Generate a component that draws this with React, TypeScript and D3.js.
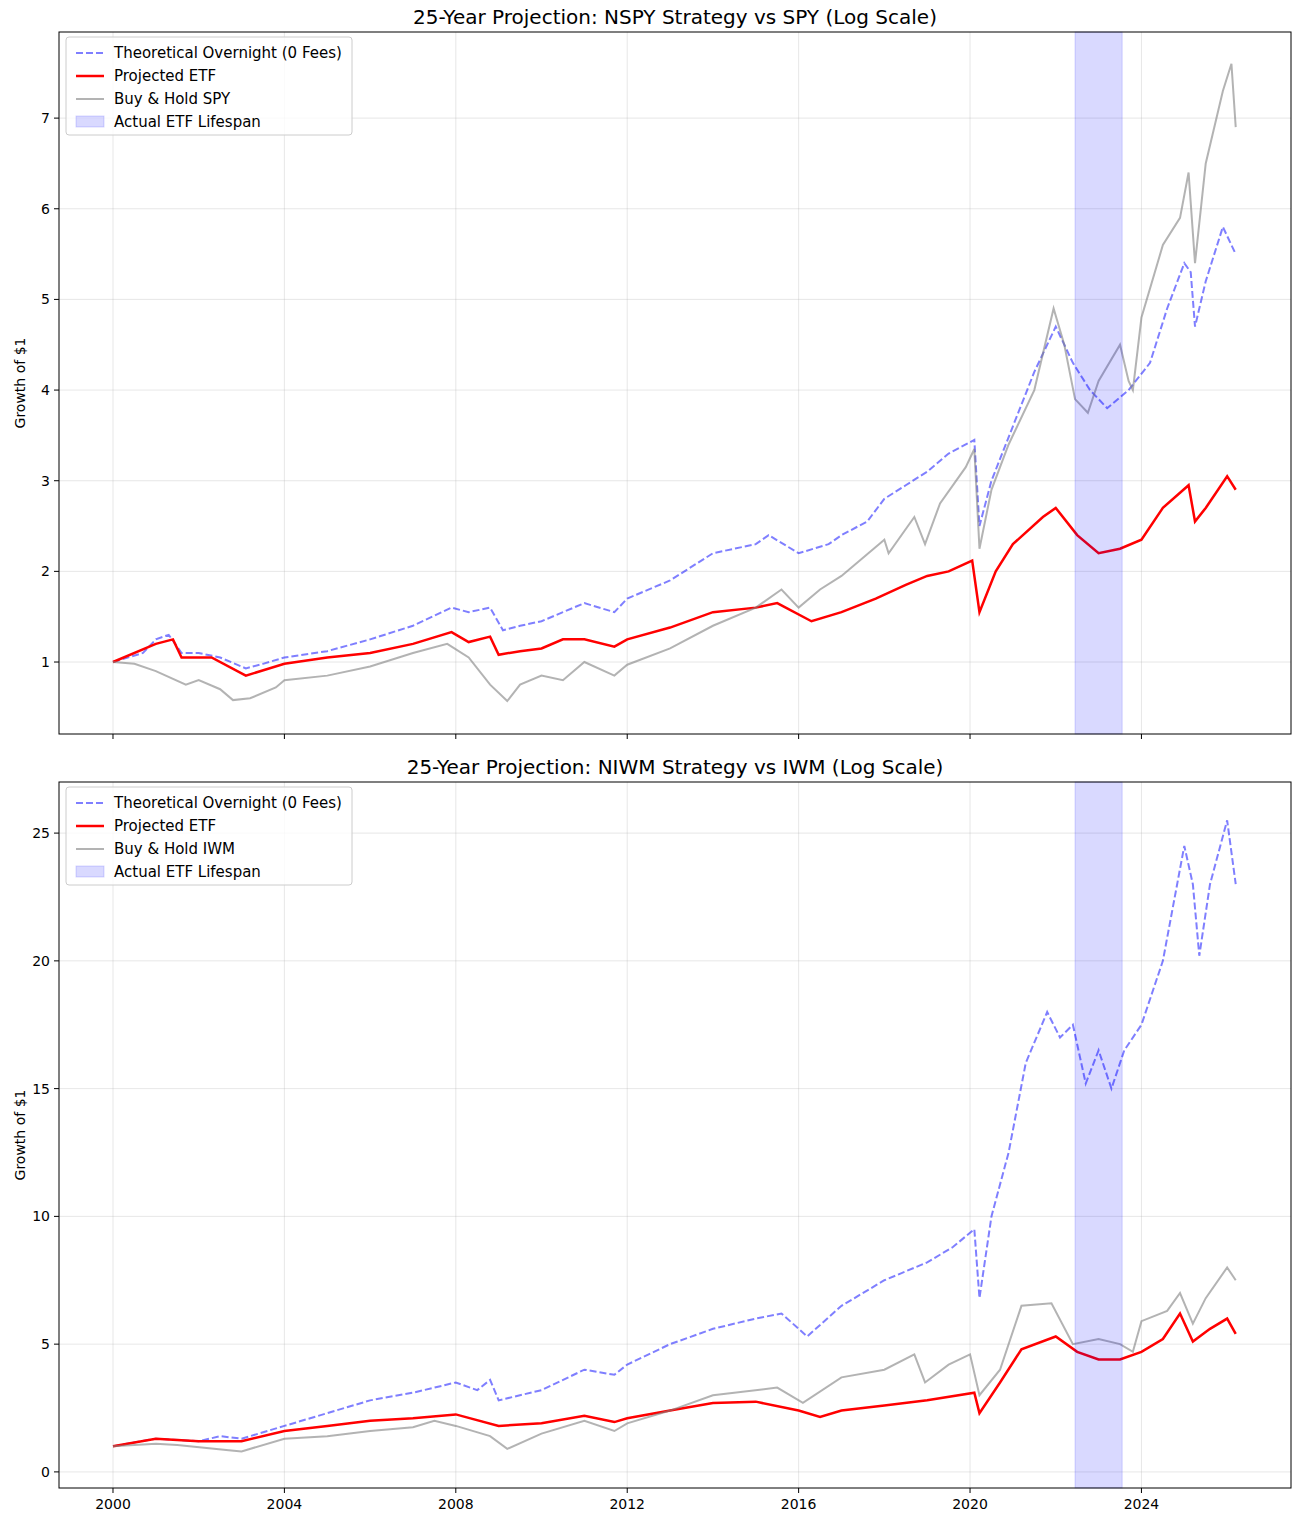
import React from "react";
import * as d3 from "d3";

// Top panel data [year, value]
const spyTheo: [number, number][] = [[2000,1.0],[2000.7,1.1],[2001,1.25],[2001.3,1.3],[2001.6,1.1],[2002,1.1],[2002.5,1.05],[2003.1,0.93],[2003.5,0.98],[2004,1.05],[2005,1.12],[2006,1.25],[2007,1.4],[2007.9,1.6],[2008.3,1.55],[2008.8,1.6],[2009.1,1.35],[2009.5,1.4],[2010,1.45],[2010.5,1.55],[2011,1.65],[2011.7,1.55],[2012,1.7],[2013,1.9],[2014,2.2],[2015,2.3],[2015.3,2.4],[2016,2.2],[2016.7,2.3],[2017,2.4],[2017.6,2.55],[2018,2.8],[2018.5,2.95],[2019,3.1],[2019.5,3.3],[2020.1,3.45],[2020.22,2.5],[2020.5,3.0],[2021,3.6],[2021.5,4.2],[2022,4.7],[2022.4,4.3],[2022.8,4.0],[2023.2,3.8],[2023.7,4.0],[2024.2,4.3],[2024.6,4.9],[2025,5.4],[2025.15,5.3],[2025.25,4.7],[2025.5,5.2],[2025.9,5.8],[2026.2,5.5]];
const spyEtf: [number, number][] = [[2000,1.0],[2001,1.2],[2001.4,1.25],[2001.6,1.05],[2002.3,1.05],[2003.1,0.85],[2004,0.98],[2005,1.05],[2006,1.1],[2007,1.2],[2007.9,1.33],[2008.3,1.22],[2008.8,1.28],[2009,1.08],[2009.5,1.12],[2010,1.15],[2010.5,1.25],[2011,1.25],[2011.7,1.17],[2012,1.25],[2013,1.38],[2014,1.55],[2015,1.6],[2015.5,1.65],[2016.3,1.45],[2017,1.55],[2017.8,1.7],[2018.5,1.85],[2019,1.95],[2019.5,2.0],[2020.05,2.12],[2020.22,1.55],[2020.6,2.0],[2021,2.3],[2021.7,2.6],[2022,2.7],[2022.5,2.4],[2023,2.2],[2023.5,2.25],[2024,2.35],[2024.5,2.7],[2025.1,2.95],[2025.25,2.55],[2025.5,2.7],[2026,3.05],[2026.2,2.9]];
const spyHold: [number, number][] = [[2000,1.0],[2000.5,0.98],[2001,0.9],[2001.7,0.75],[2002,0.8],[2002.5,0.7],[2002.8,0.58],[2003.2,0.6],[2003.8,0.72],[2004,0.8],[2005,0.85],[2006,0.95],[2007,1.1],[2007.8,1.2],[2008.3,1.05],[2008.8,0.75],[2009.2,0.57],[2009.5,0.75],[2010,0.85],[2010.5,0.8],[2011,1.0],[2011.7,0.85],[2012,0.97],[2013,1.15],[2014,1.4],[2015,1.6],[2015.6,1.8],[2016,1.6],[2016.5,1.8],[2017,1.95],[2018,2.35],[2018.1,2.2],[2018.7,2.6],[2018.95,2.3],[2019.3,2.75],[2019.9,3.15],[2020.1,3.35],[2020.22,2.25],[2020.5,2.9],[2020.9,3.4],[2021.5,4.0],[2021.95,4.9],[2022.2,4.5],[2022.45,3.9],[2022.75,3.75],[2023,4.1],[2023.5,4.5],[2023.7,4.1],[2023.8,4.0],[2024,4.8],[2024.5,5.6],[2024.9,5.9],[2025.1,6.4],[2025.25,5.4],[2025.5,6.5],[2025.9,7.3],[2026.1,7.6],[2026.2,6.9]];
// Bottom panel data
const iwmTheo: [number, number][] = [[2000,1.0],[2001,1.3],[2002,1.2],[2002.5,1.4],[2003,1.3],[2004,1.8],[2005,2.3],[2006,2.8],[2007,3.1],[2008,3.5],[2008.5,3.2],[2008.8,3.6],[2009,2.8],[2010,3.2],[2011,4.0],[2011.7,3.8],[2012,4.2],[2013,5.0],[2014,5.6],[2015,6.0],[2015.6,6.2],[2016.2,5.3],[2017,6.5],[2018,7.5],[2019,8.2],[2019.6,8.8],[2020.1,9.5],[2020.22,6.8],[2020.5,10],[2020.9,12.5],[2021.3,16],[2021.8,18],[2022.1,17],[2022.4,17.5],[2022.7,15.2],[2023,16.5],[2023.3,15.0],[2023.6,16.5],[2024,17.5],[2024.5,20],[2025,24.5],[2025.2,23],[2025.35,20.2],[2025.6,23],[2026,25.5],[2026.2,23]];
const iwmEtf: [number, number][] = [[2000,1.0],[2001,1.3],[2002,1.2],[2003,1.2],[2004,1.6],[2005,1.8],[2006,2.0],[2007,2.1],[2008,2.25],[2009,1.8],[2010,1.9],[2011,2.2],[2011.7,1.95],[2012,2.1],[2013,2.4],[2014,2.7],[2015,2.75],[2016,2.4],[2016.5,2.15],[2017,2.4],[2018,2.6],[2019,2.8],[2020.1,3.1],[2020.22,2.3],[2020.7,3.5],[2021.2,4.8],[2022,5.3],[2022.5,4.7],[2023,4.4],[2023.5,4.4],[2024,4.7],[2024.5,5.2],[2024.9,6.2],[2025.2,5.1],[2025.6,5.6],[2026,6.0],[2026.2,5.4]];
const iwmHold: [number, number][] = [[2000,1.0],[2001,1.1],[2001.5,1.05],[2002.7,0.85],[2003,0.8],[2004,1.3],[2005,1.4],[2006,1.6],[2007,1.75],[2007.5,2.0],[2008,1.8],[2008.8,1.4],[2009.2,0.9],[2010,1.5],[2011,2.0],[2011.7,1.6],[2012,1.9],[2013,2.4],[2014,3.0],[2015.5,3.3],[2016.1,2.7],[2017,3.7],[2018,4.0],[2018.7,4.6],[2018.95,3.5],[2019.5,4.2],[2020,4.6],[2020.22,3.0],[2020.7,4.0],[2021.2,6.5],[2021.9,6.6],[2022.4,5.0],[2023,5.2],[2023.5,5.0],[2023.8,4.7],[2024,5.9],[2024.6,6.3],[2024.9,7.0],[2025.2,5.8],[2025.5,6.8],[2026,8.0],[2026.2,7.5]];

const xTicks = [2000, 2004, 2008, 2012, 2016, 2020, 2024];
const topYTicks = [1, 2, 3, 4, 5, 6, 7];
const botYTicks = [0, 5, 10, 15, 20, 25];
const lifespan: [number, number] = [2022.45, 2023.55];
const FONT = "DejaVu Sans, sans-serif";

const x = d3.scaleLinear().domain([1998.74, 2027.49]).range([59, 1291]);

function Panel(p: { top: number; bottom: number; yDomain: [number, number]; yTicks: number[]; title: string; holdLabel: string; theo: [number, number][]; etf: [number, number][]; hold: [number, number][]; showX: boolean }) {
  const y = d3.scaleLinear().domain(p.yDomain).range([p.bottom, p.top]);
  const line = d3.line<[number, number]>().x(d => x(d[0])).y(d => y(d[1]));
  const L = 59, R = 1291;
  return (
    <g>
      <text x={(L + R) / 2} y={p.top - 8} textAnchor="middle" fontSize={20} fontFamily={FONT}>{p.title}</text>
      {xTicks.map(t => <line key={"gx" + t} x1={x(t)} x2={x(t)} y1={p.top} y2={p.bottom} stroke="#b0b0b0" strokeOpacity={0.3} />)}
      {p.yTicks.map(t => <line key={"gy" + t} x1={L} x2={R} y1={y(t)} y2={y(t)} stroke="#b0b0b0" strokeOpacity={0.3} />)}
      <path d={line(p.theo)!} fill="none" stroke="blue" strokeOpacity={0.5} strokeWidth={2} strokeDasharray="7,3" />
      <path d={line(p.etf)!} fill="none" stroke="red" strokeWidth={2.5} />
      <path d={line(p.hold)!} fill="none" stroke="gray" strokeOpacity={0.6} strokeWidth={2} />
      <rect x={x(lifespan[0])} y={p.top} width={x(lifespan[1]) - x(lifespan[0])} height={p.bottom - p.top} fill="blue" fillOpacity={0.15} stroke="blue" strokeOpacity={0.15} />
      <rect x={L} y={p.top} width={R - L} height={p.bottom - p.top} fill="none" stroke="black" strokeWidth={1} />
      {p.yTicks.map(t => (
        <g key={"ty" + t}>
          <line x1={L - 5} x2={L} y1={y(t)} y2={y(t)} stroke="black" />
          <text x={L - 9} y={y(t)} dy="0.35em" textAnchor="end" fontSize={14} fontFamily={FONT}>{t}</text>
        </g>
      ))}
      {xTicks.map(t => (
        <g key={"tx" + t}>
          <line x1={x(t)} x2={x(t)} y1={p.bottom} y2={p.bottom + 5} stroke="black" />
          {p.showX && <text x={x(t)} y={p.bottom + 21} textAnchor="middle" fontSize={14} fontFamily={FONT}>{t}</text>}
        </g>
      ))}
      <text transform={`translate(25,${(p.top + p.bottom) / 2}) rotate(-90)`} textAnchor="middle" fontSize={14} fontFamily={FONT}>Growth of $1</text>
      <g transform={`translate(66,${p.top + 5})`}>
        <rect width={286} height={98} rx={3} fill="white" fillOpacity={0.8} stroke="#cccccc" />
        <line x1={10} x2={38} y1={16} y2={16} stroke="blue" strokeOpacity={0.5} strokeWidth={2} strokeDasharray="7,3" />
        <text x={48} y={16} dy="0.35em" fontSize={15} fontFamily={FONT}>Theoretical Overnight (0 Fees)</text>
        <line x1={10} x2={38} y1={39} y2={39} stroke="red" strokeWidth={2.5} />
        <text x={48} y={39} dy="0.35em" fontSize={15} fontFamily={FONT}>Projected ETF</text>
        <line x1={10} x2={38} y1={62} y2={62} stroke="gray" strokeOpacity={0.6} strokeWidth={2} />
        <text x={48} y={62} dy="0.35em" fontSize={15} fontFamily={FONT}>{p.holdLabel}</text>
        <rect x={10} y={79} width={28} height={11} fill="blue" fillOpacity={0.15} stroke="blue" strokeOpacity={0.15} />
        <text x={48} y={85} dy="0.35em" fontSize={15} fontFamily={FONT}>Actual ETF Lifespan</text>
      </g>
    </g>
  );
}

export default function App() {
  return (
    <svg width={1298} height={1517} style={{ display: "block", position: "absolute", left: 0, top: 0, background: "white" }}>
      <rect width={1298} height={1517} fill="white" />
      <Panel top={32} bottom={734} yDomain={[0.206, 7.95]} yTicks={topYTicks} title="25-Year Projection: NSPY Strategy vs SPY (Log Scale)" holdLabel="Buy & Hold SPY" theo={spyTheo} etf={spyEtf} hold={spyHold} showX={false} />
      <Panel top={782} bottom={1488} yDomain={[-0.63, 27.0]} yTicks={botYTicks} title="25-Year Projection: NIWM Strategy vs IWM (Log Scale)" holdLabel="Buy & Hold IWM" theo={iwmTheo} etf={iwmEtf} hold={iwmHold} showX={true} />
    </svg>
  );
}
